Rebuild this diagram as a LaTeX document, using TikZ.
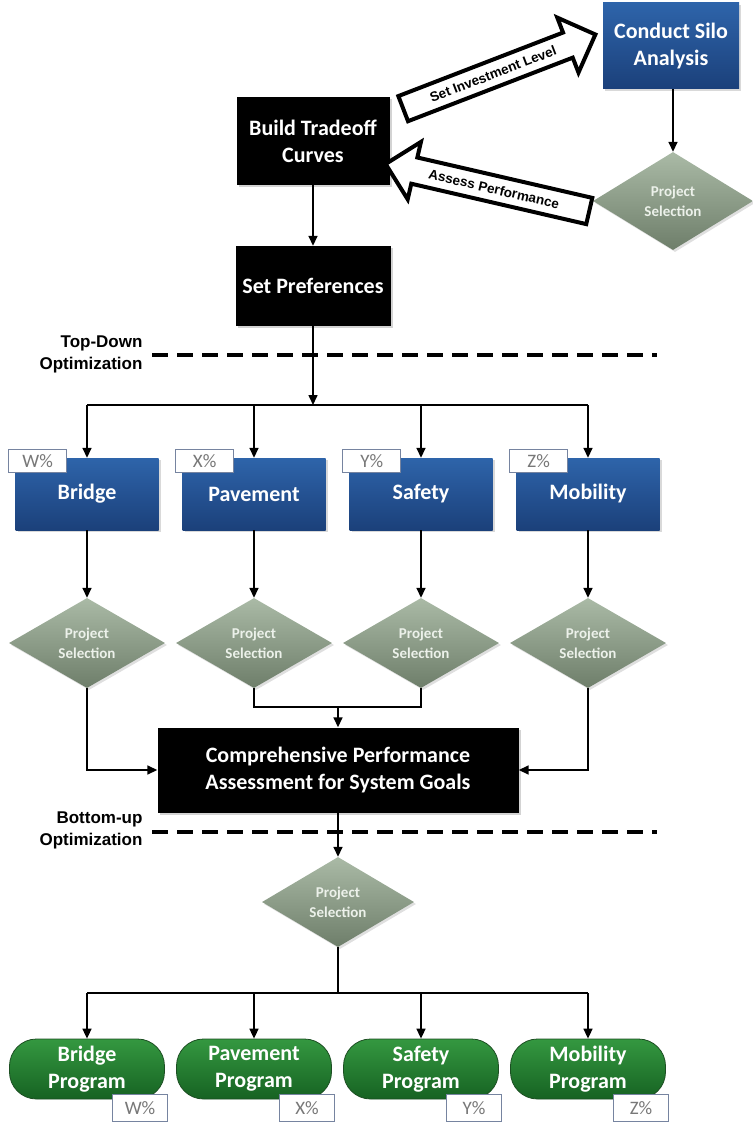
\documentclass[tikz,border=0pt]{standalone}
\usepackage{fontspec}
\setmainfont{Carlito}
\newfontfamily\labelfont{Liberation Sans}
\usetikzlibrary{arrows.meta,shapes.geometric,shapes.arrows,shadows,calc}

\definecolor{bluetop}{RGB}{46,100,170}
\definecolor{bluebot}{RGB}{27,64,122}
\definecolor{diamtop}{RGB}{170,186,166}
\definecolor{diambot}{RGB}{110,126,106}
\definecolor{diamtext}{RGB}{236,241,234}
\definecolor{greentop}{RGB}{52,152,64}
\definecolor{greenbot}{RGB}{22,98,34}
\definecolor{greenline}{RGB}{28,78,34}
\definecolor{tagline}{RGB}{118,132,160}
\definecolor{tagtext}{RGB}{120,120,120}

\tikzset{
  boxfont/.style={font=\bfseries\fontsize{22}{27}\selectfont},
  darkbox/.style={rectangle, fill=black, text=white, boxfont, align=center,
    drop shadow={opacity=0.35, shadow xshift=2pt, shadow yshift=-2pt}},
  bluebox/.style={rectangle, top color=bluetop, bottom color=bluebot, text=white,
    boxfont, align=center, minimum width=143pt, minimum height=72pt,
    drop shadow={opacity=0.3, shadow xshift=2pt, shadow yshift=-2pt}},
  choice/.style={diamond, top color=diamtop, bottom color=diambot, text=diamtext,
    font=\bfseries\fontsize{15}{20}\selectfont, align=center, inner sep=0pt,
    minimum width=156pt, minimum height=90pt,
    drop shadow={opacity=0.25, shadow xshift=2pt, shadow yshift=-2pt}},
  program/.style={rectangle, rounded corners=27pt, top color=greentop, bottom color=greenbot,
    draw=greenline, line width=0.8pt, text=white, boxfont, align=center,
    minimum width=155pt, minimum height=60pt},
  tag/.style={rectangle, draw=tagline, line width=0.8pt, fill=white, text=tagtext,
    font=\fontsize{19}{22}\selectfont, inner sep=0pt},
  bigarrow/.style={single arrow, draw=black, line width=4pt, fill=white,
    font=\labelfont\bfseries\fontsize{13.5}{15}\selectfont,
    inner xsep=3pt, inner ysep=6.5pt, single arrow head extend=16pt,
    single arrow tip angle=90},
  phase/.style={font=\labelfont\bfseries\fontsize{17}{22}\selectfont, align=right, anchor=east},
  phaseline/.style={line width=3.5pt, dash pattern=on 16pt off 9pt},
  arr/.style={line width=1.6pt, -{Triangle[length=10pt,width=9pt]}},
  link/.style={line width=1.6pt},
}

\begin{document}
\begin{tikzpicture}[x=1pt,y=-1pt]
\useasboundingbox (0,0) rectangle (752,1123);

% ---- silo loop ----
\node[bluebox, minimum width=136pt, minimum height=86pt] (silo) at (671,46) {Conduct Silo\\Analysis};
\node[choice, minimum width=160pt, minimum height=98pt] (silosel) at (673,201) {Project\\Selection};
\draw[arr] (silo.south -| silosel.north) -- (silosel.north);

\node[darkbox, minimum width=153pt, minimum height=88pt] (build) at (313,141) {Build Tradeoff\\Curves};
\node[bigarrow, minimum height=206pt, rotate=21.1] (invest) at (493,74) {Set Investment Level};
\node[bigarrow, minimum height=209pt, shape border rotate=180, rotate=-13] (assess) at (494,189) {Assess Performance};

\node[darkbox, minimum width=155pt, minimum height=80pt] (pref) at (313,286) {Set Preferences};
\draw[arr] (build.south) -- (pref.north);

% ---- top-down split ----
\node[phase] (tdlabel) at (146,354) {Top-Down\\Optimization};
\coordinate (td0) at (152,355);
\coordinate (td1) at (657,355);
\draw[phaseline] (td0) -- (td1);

\node[bluebox] (bridge) at (87,494) {Bridge};
\node[bluebox] (pave) at (254,494) {Pavement};
\node[bluebox] (safety) at (421,494) {Safety};
\node[bluebox] (mob) at (588,494) {Mobility};

\coordinate (busA) at (313,405);
\draw[arr] (pref.south) -- (busA);
\draw[link] (bridge.north |- busA) -- (mob.north |- busA);
\foreach \b in {bridge,pave,safety,mob}
  \draw[arr] (\b.north |- busA) -- (\b.north);

\foreach \b/\t in {bridge/W\%,pave/X\%,safety/Y\%,mob/Z\%}
  \node[tag, anchor=north west, minimum width=58pt, minimum height=23pt] (\b tag)
    at ($(\b.north west)+(-7,-9)$) {\t};

\node[choice] (sel1) at (87,643) {Project\\Selection};
\node[choice] (sel2) at (254,643) {Project\\Selection};
\node[choice] (sel3) at (421,643) {Project\\Selection};
\node[choice] (sel4) at (588,643) {Project\\Selection};
\draw[arr] (bridge.south) -- (sel1.north);
\draw[arr] (pave.south) -- (sel2.north);
\draw[arr] (safety.south) -- (sel3.north);
\draw[arr] (mob.south) -- (sel4.north);

\node[darkbox, minimum width=361pt, minimum height=85pt]
  (cpa) at (338,770) {Comprehensive Performance\\Assessment for System Goals};

\coordinate (mid) at (338,707);
\draw[link] (sel2.south) |- (mid) -| (sel3.south);
\draw[arr] (mid) -- (cpa.north);
\draw[arr] (sel1.south) |- (cpa.west);
\draw[arr] (sel4.south) |- (cpa.east);

% ---- bottom-up merge ----
\node[phase] (bulabel) at (146,830) {Bottom-up\\Optimization};
\coordinate (bu0) at (152,832);
\coordinate (bu1) at (657,832);
\draw[phaseline] (bu0) -- (bu1);

\node[choice, minimum width=152pt] (final) at (338,902) {Project\\Selection};
\draw[arr] (cpa.south) -- (final.north);

\node[program] (pbridge) at (87,1069) {Bridge\\Program};
\node[program] (ppave) at (254,1069) {Pavement\\Program};
\node[program] (psafety) at (421,1069) {Safety\\Program};
\node[program] (pmob) at (588,1069) {Mobility\\Program};

\coordinate (busB) at (338,993);
\draw[link] (final.south) -- (busB);
\draw[link] (pbridge.north |- busB) -- (pmob.north |- busB);
\foreach \b in {pbridge,ppave,psafety,pmob}
  \draw[arr] (\b.north |- busB) -- (\b.north);

\foreach \b/\t in {pbridge/W\%,ppave/X\%,psafety/Y\%,pmob/Z\%}
  \node[tag, anchor=north east, minimum width=55pt, minimum height=27pt] (\b tag)
    at ($(\b.south east)+(3,-5)$) {\t};
\end{tikzpicture}
\end{document}
